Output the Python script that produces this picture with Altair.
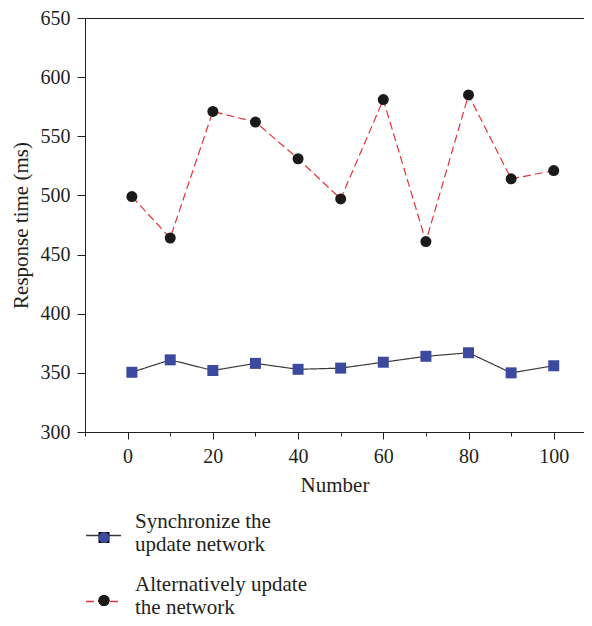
import altair as alt
import pandas as pd

numbers = [1, 10, 20, 30, 40, 50, 60, 70, 80, 90, 100]
sync_values = [350.5, 361, 352, 358, 353, 354, 359, 364, 367, 350, 356]
alt_values = [499, 464, 571, 562, 531, 497, 581, 461, 585, 514, 521]
legend_labels = ["Synchronize the|update network", "Alternatively update|the network"]

rows = []
for n, v in zip(numbers, sync_values):
    rows.append({"Number": n, "value": v, "series": legend_labels[0]})
for n, v in zip(numbers, alt_values):
    rows.append({"Number": n, "value": v, "series": legend_labels[1]})
df = pd.DataFrame(rows)
df["series_p"] = df["series"]
df["series_l"] = df["series"]

FONT = "Liberation Serif"
TXT = "#231f20"

x_ticks = list(range(-10, 101, 10))
y_ticks = list(range(300, 651, 25))

x_enc = alt.X(
    "Number:Q",
    scale=alt.Scale(domain=[-10, 107.1], nice=False, zero=False),
    axis=alt.Axis(
        values=x_ticks,
        labelExpr="datum.value % 20 === 0 ? datum.label : ''",
        tickSize={"condition": {"test": "datum.value % 20 === 0", "value": 7}, "value": 4},
        grid=False,
        title="Number",
        labelPadding=7,
        titlePadding=8,
    ),
)
y_enc = alt.Y(
    "value:Q",
    scale=alt.Scale(domain=[300, 650], nice=False, zero=False),
    axis=alt.Axis(
        values=y_ticks,
        labelExpr="datum.value % 50 === 0 ? datum.label : ''",
        tickSize={"condition": {"test": "datum.value % 50 === 0", "value": 8}, "value": 4},
        grid=False,
        title="Response time (ms)",
        labelPadding=7,
        titlePadding=9,
    ),
)

legend_common = dict(
    orient="none",
    legendX=0,
    padding=0,
    labelFont=FONT,
    labelFontSize=21,
    labelColor=TXT,
    labelOffset=13,
    labelLimit=400,
    labelExpr="split(datum.label, '|')",
    title=None,
)
blank = dict(labelExpr="[' ', ' ']", labelOpacity=0)
line_legend = dict(legend_common, legendY=499, rowPadding=14, symbolType="stroke",
                   symbolSize=1225, symbolStrokeWidth=1.3, **blank)
point_legend = dict(legend_common, legendX=8.5, legendY=509, rowPadding=18,
                    symbolSize=121, symbolStrokeWidth=0, **blank)
label_legend = dict(legend_common, legendY=485, rowPadding=11, symbolType="stroke",
                    symbolSize=1225, symbolOpacity=0)

lines = alt.Chart(df).mark_line(strokeWidth=1.2).encode(
    x=x_enc,
    y=y_enc,
    color=alt.Color(
        "series:N",
        sort=legend_labels,
        scale=alt.Scale(domain=legend_labels, range=["#3a3a3a", "#e8333c"]),
        legend=alt.Legend(**line_legend),
    ),
    strokeDash=alt.StrokeDash(
        "series:N",
        sort=legend_labels,
        scale=alt.Scale(domain=legend_labels, range=[[1, 0], [8, 4]]),
        legend=alt.Legend(**line_legend),
    ),
)

points = alt.Chart(df).mark_point(filled=True, size=121, opacity=1, strokeWidth=0).encode(
    x=alt.X("Number:Q"),
    y=alt.Y("value:Q"),
    fill=alt.Fill(
        "series_p:N",
        sort=legend_labels,
        scale=alt.Scale(range=["#3b4a9e", "#1a1a1a"]),
        legend=alt.Legend(**point_legend),
    ),
    shape=alt.Shape(
        "series_p:N",
        sort=legend_labels,
        scale=alt.Scale(range=["square", "circle"]),
        legend=alt.Legend(**point_legend),
    ),
    stroke=alt.Stroke(
        "series_l:N",
        sort=legend_labels,
        scale=alt.Scale(range=["#3b4a9e", "#1a1a1a"]),
        legend=alt.Legend(**label_legend),
    ),
)

frame_top = alt.Chart(df).mark_rule(color="#231f20", strokeWidth=1).encode(
    x=alt.value(0), x2=alt.value(499), y=alt.value(0.5)
)

chart = (
    alt.layer(lines, points, frame_top)
    .properties(
        width=499,
        height=414,
        autosize=alt.AutoSizeParams(type="none"),
        padding={"left": 77, "top": 10, "right": 0, "bottom": 186},
    )
    .configure_view(stroke=None)
    .configure_axis(
        domainColor="#231f20",
        tickColor="#231f20",
        labelFont=FONT,
        labelFontSize=20,
        labelColor=TXT,
        titleFont=FONT,
        titleFontSize=21,
        titleFontWeight="normal",
        titleColor=TXT,
        domainWidth=1,
        tickWidth=1,
    )
)

chart.save("out.html", embed_options={"renderer": "svg", "actions": False})
